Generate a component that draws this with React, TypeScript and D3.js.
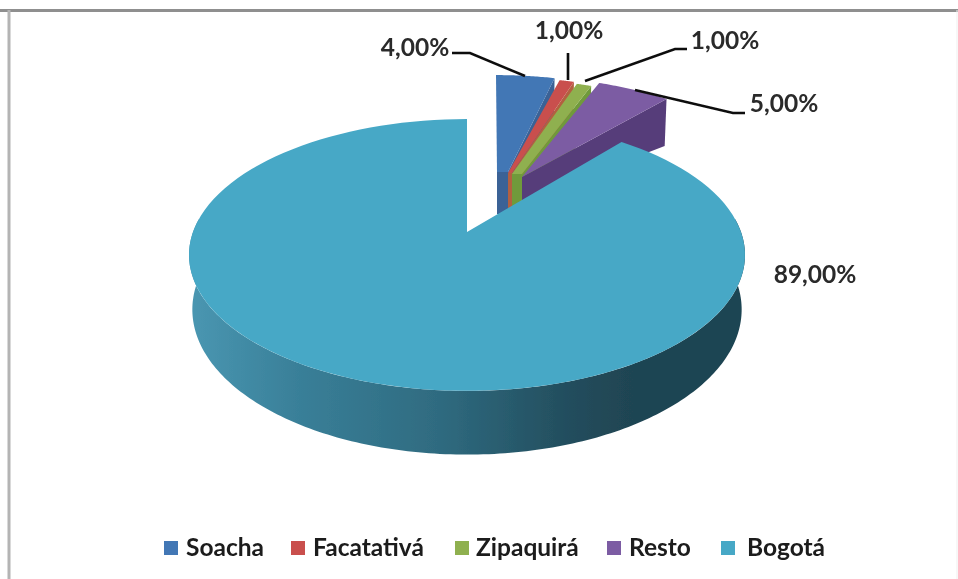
import React from "react";
import * as d3 from "d3";

const categories = ["Soacha", "Facatativá", "Zipaquirá", "Resto", "Bogotá"];
const values = [4, 1, 1, 5, 89];
const labels = ["4,00%", "1,00%", "1,00%", "5,00%", "89,00%"];
const topColors = ["#4377b5", "#c9504d", "#8fb04f", "#7c5ca3", "#47a8c6"];
const wallColors = ["#3a6296", "#b3603f", "#6f9a3a", "#573d7a", "#2f6a80"];

const W = 958, H = 579;
const A = 274, B = 132, K = 0.169, DEPTH = 53;
const apex: [number, number][] = [[496, 188], [501, 190], [504, 192], [512, 189], [467, 232]];
// Inner ends of the four pulled-out wedges: [left x, right x, top y, wall bottom y]
const tips = [
  [497, 508, 172, 214],
  [508, 512, 173, 212],
  [512, 522, 174, 208],
  [522, 522, 177, 201],
];
const labelPos: [number, number][] = [[415, 56], [569, 39], [725, 49], [784, 112], [815, 283]];
const leaders = [
  [[452, 53], [470, 53], [525, 76]],
  [[568, 53], [568, 80]],
  [[687, 49], [675, 49], [585, 81]],
  [[745, 113], [733, 113], [635, 90]],
];
const legendX = [164, 291, 455, 607, 721];
const legendTextX = [186, 313, 476, 629, 747];

function project(c: [number, number], theta: number, z: number): [number, number] {
  const u = Math.sin(theta), v = Math.cos(theta);
  const d = 1 + K * v;
  const shrink = 1 - 0.012 * z;
  return [c[0] + (A * u * shrink) / d, c[1] - (B * v) / d + (z * DEPTH) / d];
}

const line = d3.line().curve(d3.curveLinear);
const arcs = d3.pie<number>().sort(null).value((d) => d)(values);

function samples(a: number, b: number, n = 120) {
  return d3.range(n + 1).map((i) => a + ((b - a) * i) / n);
}

function mainTop() {
  const c = apex[4];
  const pts = samples(arcs[4].startAngle, arcs[4].endAngle).map((t) => project(c, t, 0));
  return line([c, ...pts, c]) + "Z";
}
function wedgeTop(i: number) {
  const [xl, xr, y] = tips[i];
  const pts = samples(arcs[i].startAngle, arcs[i].endAngle, 30).map((t) => project(apex[i], t, 0));
  return line([[xl, y], ...pts, [xr, y]]) + "Z";
}
function wedgeWall(i: number) {
  const [xl, xr, y, yb] = tips[i];
  const t = arcs[i].endAngle;
  const o = project(apex[i], t, 0), ob = project(apex[i], t, 1);
  return line([[xl, y], [xr, y], o, ob, [xr, yb], [xl, yb]]) + "Z";
}
function mainWall() {
  const c = apex[4];
  const ts = samples(Math.PI / 2 - 0.1, (3 * Math.PI) / 2 + 0.1, 200);
  const up = ts.map((t) => project(c, t, 0));
  const dn = ts.slice().reverse().map((t) => project(c, t, 1));
  return line([...up, ...dn]) + "Z";
}

const wallOrder = [0, 1, 2, 3];
const topOrder = [0, 3, 1, 2];

export default function App() {
  const font = "Lato, sans-serif";
  return (
    <svg width={W} height={H} style={{ position: "absolute", left: 0, top: 0, background: "#fff" }}>
      <defs>
        <linearGradient id="wall" gradientUnits="userSpaceOnUse" x1={188} x2={744} y1={0} y2={0}>
          <stop offset="0" stopColor="#4a97b2" />
          <stop offset="0.2" stopColor="#397f98" />
          <stop offset="0.45" stopColor="#2f6b80" />
          <stop offset="0.68" stopColor="#234e5e" />
          <stop offset="0.8" stopColor="#1f4452" />
          <stop offset="1" stopColor="#1f4452" />
        </linearGradient>
        <filter id="soft" x="-5%" y="-5%" width="110%" height="110%">
          <feGaussianBlur stdDeviation="0.5" />
        </filter>
      </defs>
      <path d="M0 10.500H958" fill="none" stroke="#8f8f8f" strokeWidth={3} />
      <path d="M9 10V579" fill="none" stroke="#b4b4b4" strokeWidth={3} />
      <path d="M957 10V579" fill="none" stroke="#efefef" strokeWidth={1} />
      <g filter="url(#soft)">
        {wallOrder.map((i) => (
          <path key={categories[i]} d={wedgeWall(i)} fill={wallColors[i]} />
        ))}
        {topOrder.map((i) => (
          <path key={categories[i]} d={wedgeTop(i)} fill={topColors[i]} />
        ))}
        <path d={mainWall()} fill="url(#wall)" />
        <path d={mainTop()} fill={topColors[4]} />
        {leaders.map((l, i) => (
          <path key={i} d={line(l as [number, number][]) as string} fill="none" stroke="#111" strokeWidth={2.6} />
        ))}
        {labels.map((t, i) => (
          <text key={i} x={labelPos[i][0]} y={labelPos[i][1]} textAnchor="middle" fontFamily={font} fontSize={24.5} fontWeight={700} fill="#2a2a2a">
            {t}
          </text>
        ))}
        {categories.map((c, i) => (
          <g key={c}>
            <rect x={legendX[i]} y={541} width={14} height={14} fill={topColors[i]} />
            <text x={legendTextX[i]} y={556} fontFamily={font} fontSize={24.5} fontWeight={700} fill="#1a1a1a">
              {c}
            </text>
          </g>
        ))}
      </g>
    </svg>
  );
}
